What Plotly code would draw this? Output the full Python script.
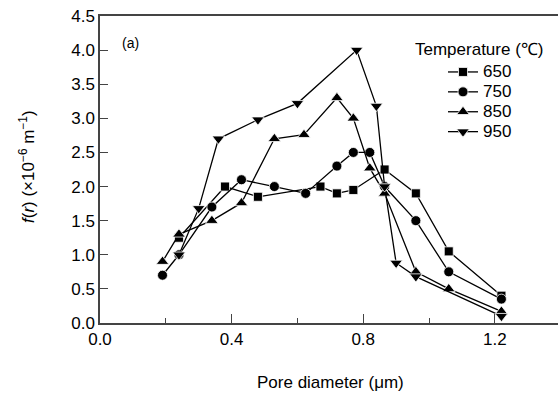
import plotly.graph_objects as go

# Data
x650 = [0.24, 0.38, 0.48, 0.67, 0.72, 0.77, 0.865, 0.96, 1.06, 1.22]
y650 = [1.25, 2.00, 1.85, 2.00, 1.90, 1.95, 2.25, 1.90, 1.05, 0.40]

x750 = [0.19, 0.24, 0.34, 0.43, 0.53, 0.625, 0.72, 0.77, 0.82, 0.865, 0.96, 1.06, 1.22]
y750 = [0.70, 1.00, 1.70, 2.10, 2.00, 1.90, 2.30, 2.50, 2.50, 2.00, 1.50, 0.75, 0.35]

x850 = [0.19, 0.24, 0.34, 0.43, 0.53, 0.62, 0.72, 0.77, 0.82, 0.865, 0.96, 1.06, 1.22]
y850 = [0.90, 1.30, 1.50, 1.76, 2.70, 2.76, 3.30, 3.00, 2.27, 1.90, 0.75, 0.50, 0.17]

x950 = [0.24, 0.30, 0.36, 0.48, 0.60, 0.78, 0.84, 0.865, 0.90, 0.96, 1.22]
y950 = [1.00, 1.68, 2.70, 2.98, 3.22, 4.00, 3.18, 2.00, 0.88, 0.68, 0.10]

series_names = ["650", "750", "850", "950"]
series_x = [x650, x750, x850, x950]
series_y = [y650, y750, y850, y950]
symbols = ["square", "circle", "triangle-up", "triangle-down"]
sizes = [9, 10, 11, 11]

x_ticks = [0.0, 0.4, 0.8, 1.2]
x_minor = [0.2, 0.6, 1.0]
y_ticks = [0.0, 0.5, 1.0, 1.5, 2.0, 2.5, 3.0, 3.5, 4.0, 4.5]

FONT = "Arial, Liberation Sans, sans-serif"
W, H = 558, 394
L, R, T, B = 100, 0, 16, 71
PW, PH = W - L - R, H - T - B


def px(x):
    return (x - L) / PW


def py(y):
    return (H - B - y) / PH


fig = go.Figure()
for name, xs, ys, sym, sz in zip(series_names, series_x, series_y, symbols, sizes):
    fig.add_trace(go.Scatter(
        x=xs, y=ys, mode="lines+markers",
        name=f'<span style="font-size:17px">{name}</span>',
        line=dict(color="black", width=1.3),
        marker=dict(symbol=sym, size=sz, color="black",
                    line=dict(color="white", width=0.8)),
    ))

fig.update_layout(
    width=W, height=H,
    margin=dict(l=L, r=R, t=T, b=B),
    plot_bgcolor="white", paper_bgcolor="white",
    font=dict(family=FONT, size=17, color="black"),
    showlegend=True,
    legend=dict(
        x=px(443), y=py(57), xanchor="left", yanchor="top",
        bgcolor="rgba(0,0,0,0)",
        font=dict(family=FONT, size=13, color="black"),
        tracegroupgap=0, itemwidth=30,
    ),
    xaxis=dict(
        range=[0, 1.392], tickvals=x_ticks, ticktext=["0.0", "0.4", "0.8", "1.2"],
        ticks="inside", ticklen=9, tickwidth=1, tickcolor="#444",
        minor=dict(tickvals=x_minor, ticks="inside", ticklen=5,
                   tickcolor="#444", showgrid=False),
        showline=True, linecolor="#444", linewidth=1.5, mirror=True,
        showgrid=False, zeroline=False,
        tickfont=dict(family=FONT, size=17),
    ),
    yaxis=dict(
        range=[0, 4.5], tickvals=y_ticks,
        ticktext=[f"{v:.1f}" for v in y_ticks],
        ticks="inside", ticklen=8, tickwidth=1, tickcolor="#444",
        showline=True, linecolor="#444", linewidth=1.5,
        showgrid=False, zeroline=False,
        tickfont=dict(family=FONT, size=17),
    ),
    annotations=[
        dict(text="Pore diameter (μm)", xref="paper", yref="paper",
             x=px(330), y=py(382), showarrow=False,
             xanchor="center", yanchor="middle",
             font=dict(family=FONT, size=17)),
        dict(text="<i>f</i>(<i>r</i>) (×10<sup>−6</sup> m<sup>−1</sup>)",
             xref="paper", yref="paper", x=px(27), y=py(167),
             textangle=-90, showarrow=False, xanchor="center", yanchor="middle",
             font=dict(family=FONT, size=17)),
        dict(text="(a)", xref="paper", yref="paper",
             x=px(130), y=py(43), showarrow=False,
             xanchor="center", yanchor="middle",
             font=dict(family=FONT, size=14)),
        dict(text="Temperature (℃)", xref="paper", yref="paper",
             x=px(479), y=py(49), showarrow=False,
             xanchor="center", yanchor="middle",
             font=dict(family=FONT, size=17)),
    ],
)

fig.write_html("out.html", config={"displayModeBar": False},
               post_script="document.body.style.margin='0';")
